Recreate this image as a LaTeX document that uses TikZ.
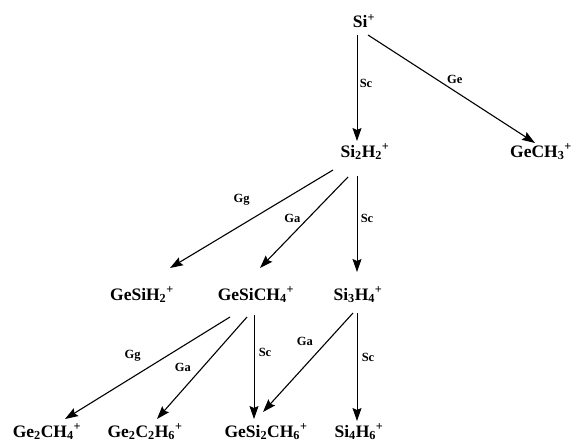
\documentclass[tikz,border=0pt]{standalone}
\usepackage{fontspec}
\setmainfont{Liberation Serif}
\usetikzlibrary{arrows.meta,calc}
\newcommand\chsb[1]{\textsubscript{#1}}
\newcommand\chp{\textsuperscript{+}}
\begin{document}
\begin{tikzpicture}[x=1pt,y=-1pt,
  ion/.style={font=\fontsize{17.5}{19}\selectfont\bfseries, inner sep=0pt, anchor=base},
  lab/.style={font=\fontsize{12.5}{14}\selectfont\bfseries, inner sep=0pt, anchor=center},
  arr/.style={line width=1.1pt, -{Stealth[length=13pt,width=9pt,inset=2pt]}},
  varr/.style={line width=0.9pt, -{Stealth[length=13pt,width=9pt,inset=2pt]}}]
\useasboundingbox (0,0) rectangle (577,444);
\node[ion] (si) at (364,28) {Si\chp};
\node[ion] (si2h2) at (365,157) {Si\chsb{2}H\chsb{2}\chp};
\node[ion] (gech3) at (541,157) {GeCH\chsb{3}\chp};
\node[ion] (gesih2) at (142,300) {GeSiH\chsb{2}\chp};
\node[ion] (gesich4) at (256,300) {GeSiCH\chsb{4}\chp};
\node[ion] (si3h4) at (358,300) {Si\chsb{3}H\chsb{4}\chp};
\node[ion] (ge2ch4) at (47,437) {Ge\chsb{2}CH\chsb{4}\chp};
\node[ion] (ge2c2h6) at (145,437) {Ge\chsb{2}C\chsb{2}H\chsb{6}\chp};
\node[ion] (gesi2ch6) at (266,437) {GeSi\chsb{2}CH\chsb{6}\chp};
\node[ion] (si4h6) at (359,437) {Si\chsb{4}H\chsb{6}\chp};

\draw[varr] ($(si.base)+(-7,7)$) -- node[lab,pos=0.46,xshift=9pt] (l1) {Sc} ($(si2h2.base)+(-8,-16)$);
\draw[arr] ($(si.base)+(4,7)$) -- node[lab,pos=0.52,yshift=12pt] (l2) {Ge} ($(gech3.base)+(-6,-14)$);
\draw[arr] ($(si2h2.base)+(-32,13)$) -- node[lab,pos=0.56,yshift=25pt] (l3) {Gg} ($(gesih2.base)+(28,-32)$);
\draw[arr] ($(si2h2.base)+(-17,20)$) -- node[lab,pos=0.45,xshift=-16pt] (l4) {Ga} ($(gesich4.base)+(4,-32)$);
\draw[varr] ($(si2h2.base)+(-8,19)$) -- node[lab,pos=0.44,xshift=10pt] (l5) {Sc} ($(si3h4.base)+(-1,-28)$);
\draw[arr] ($(gesich4.base)+(-26,17)$) -- node[lab,pos=0.59,yshift=21pt] (l6) {Gg} ($(ge2ch4.base)+(18,-18)$);
\draw[arr] ($(gesich4.base)+(-9,17)$) -- node[lab,pos=0.49,xshift=-20pt] (l7) {Ga} ($(ge2c2h6.base)+(12,-18)$);
\draw[varr] ($(gesich4.base)+(-2,15)$) -- node[lab,pos=0.36,xshift=11pt] (l8) {Sc} ($(gesi2ch6.base)+(-12,-18)$);
\draw[arr] ($(si3h4.base)+(-5,13)$) -- node[lab,pos=0.29,xshift=-22pt] (l9) {Ga} ($(gesi2ch6.base)+(-3,-25)$);
\draw[varr] ($(si3h4.base)+(-1,13)$) -- node[lab,pos=0.41,xshift=11pt] (l10) {Sc} ($(si4h6.base)+(-2,-16)$);
\end{tikzpicture}
\end{document}
